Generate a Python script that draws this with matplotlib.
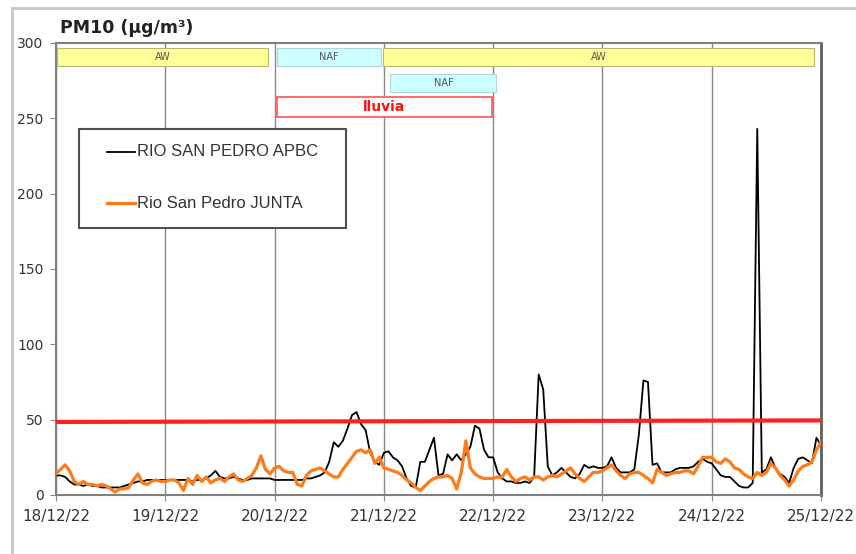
import numpy as np
import matplotlib.pyplot as plt
from matplotlib.patches import Rectangle
from matplotlib.lines import Line2D

# hourly PM10 values, 18/12/22 00h .. 25/12/22 00h
apbc = [
    13, 13, 12, 9, 7, 7, 6, 7, 6, 6, 5, 5, 5, 5, 5, 6, 7, 8, 9, 9, 10, 10, 10, 10,
    10, 10, 10, 10, 10, 10, 9, 10, 10, 11, 13, 16, 12, 11, 11, 12, 11, 10, 10, 11, 11, 11, 11, 11,
    10, 10, 10, 10, 10, 10, 10, 11, 11, 12, 13, 15, 22, 35, 32, 36, 44, 53, 55, 47, 43, 28, 22, 20,
    28, 29, 25, 23, 19, 11, 6, 5, 22, 22, 30, 38, 13, 14, 27, 23, 27, 23, 27, 32, 46, 44, 30, 25,
    25, 15, 11, 9, 9, 8, 8, 9, 8, 12, 80, 70, 19, 13, 15, 18, 15, 12, 11, 14, 20, 18, 19, 18,
    18, 19, 25, 18, 15, 15, 15, 17, 40, 76, 75, 20, 21, 15, 15, 15, 17, 18, 18, 18, 19, 22, 24, 22,
    21, 17, 13, 12, 12, 9, 6, 5, 5, 8, 243, 15, 17, 25, 18, 14, 12, 8, 18, 24, 25, 23, 21, 38,
    33,
]
junta = [
    14, 17, 20, 16, 9, 7, 9, 7, 7, 6, 7, 6, 4, 2, 4, 4, 5, 10, 14, 8, 7, 9, 10, 9,
    9, 10, 10, 8, 3, 11, 7, 13, 9, 12, 8, 10, 11, 9, 12, 14, 10, 9, 11, 13, 18, 26, 17, 14,
    18, 19, 16, 15, 15, 7, 6, 13, 16, 17, 18, 16, 14, 12, 12, 17, 21, 25, 29, 30, 28, 30, 21, 25,
    18, 17, 16, 15, 13, 10, 8, 5, 3, 6, 9, 11, 12, 12, 13, 11, 4, 15, 36, 18, 14, 12, 11, 11,
    11, 12, 12, 17, 12, 9, 11, 12, 10, 12, 12, 10, 12, 13, 12, 14, 16, 18, 14, 11, 9, 12, 15, 15,
    16, 18, 20, 16, 13, 11, 14, 15, 15, 13, 11, 8, 17, 15, 13, 14, 15, 15, 16, 16, 14, 19, 25, 25,
    25, 22, 21, 24, 22, 18, 17, 14, 12, 11, 15, 13, 15, 21, 18, 13, 10, 6, 10, 16, 19, 20, 22, 30,
    35,
]
limit = [48.5, 49.5]
day_labels = ['18/12/22', '19/12/22', '20/12/22', '21/12/22',
              '22/12/22', '23/12/22', '24/12/22', '25/12/22']
series_names = ['RIO SAN PEDRO APBC', 'Rio San Pedro JUNTA']

# episode bars on top: label, start day, end day, row
ev_labels = ['AW', 'NAF', 'AW', 'NAF', 'lluvia']
ev_start = [0.01, 2.02, 2.99, 3.06, 2.02]
ev_end = [1.94, 2.97, 6.94, 4.03, 3.99]
ev_row = [0, 0, 0, 1, 2]

t = np.arange(len(apbc)) / 24.0
colors = ['black', '#ff7a1a']
widths = [1.3, 2.3]

fig = plt.figure(figsize=(8.56, 5.54), dpi=100)
ax = fig.add_axes([56/856, 59/554, 765/856, 452/554])

ax.plot(t, apbc, color=colors[0], lw=widths[0], zorder=3)
ax.plot(t, junta, color=colors[1], lw=widths[1], zorder=4)
ax.plot([0, 7], limit, color='#ff2020', lw=3, zorder=5)

ax.set_xlim(0, 7)
ax.set_ylim(0, 300)
ax.set_xticks(range(8))
ax.set_xticklabels(day_labels)
ax.set_yticks(range(0, 301, 50))
ax.tick_params(axis='both', colors='#888888', labelcolor='#333333', labelsize=10, length=4)
ax.tick_params(axis='x', pad=6, labelsize=11)
ax.tick_params(axis='y', pad=5)
ax.grid(axis='x', color='#8a8a8a', lw=1)
for s in ax.spines.values():
    s.set_color('#808080')
    s.set_linewidth(1.5)
ax.spines['right'].set_color('#606060')
ax.spines['right'].set_linewidth(2)

rows = [(284.7, 296.6), (267.4, 279.4), (251, 264)]
for lab, x0, x1, r in zip(ev_labels, ev_start, ev_end, ev_row):
    y0, y1 = rows[r]
    if lab == 'AW':
        fc, ec, tc, fw, fs = '#ffff99', '#b8b870', '#555555', 'normal', 7
    elif lab == 'NAF':
        fc, ec, tc, fw, fs = '#ccffff', '#b0d8d8', '#555555', 'normal', 7
    else:
        fc, ec, tc, fw, fs = 'white', '#ff6060', '#ff1010', 'bold', 10
    ax.add_patch(Rectangle((x0, y0), x1 - x0, y1 - y0, facecolor=fc,
                           edgecolor=ec, lw=1.3 if lab == 'lluvia' else 0.8, zorder=6))
    ax.text((x0 + x1) / 2, (y0 + y1) / 2, lab, ha='center', va='center',
            color=tc, fontsize=fs, fontweight=fw, zorder=7)

# legend box drawn by hand (axes fraction)
def px2ax(px, py):
    return (px - 56) / 765, (495 - py) / 452

lx0, ly0 = px2ax(79, 228)
lx1, ly1 = px2ax(346, 129)
ax.add_patch(Rectangle((lx0, ly0), lx1 - lx0, ly1 - ly0, transform=ax.transAxes,
                       facecolor='white', edgecolor='#505050', lw=1.5, zorder=8))
for name, c, w, py in zip(series_names, colors, widths, [152, 203]):
    hx0, hy = px2ax(107, py)
    hx1, _ = px2ax(135, py)
    ax.plot([hx0, hx1], [hy, hy], color=c, lw=w, transform=ax.transAxes, zorder=9)
    tx, _ = px2ax(137, py)
    ax.text(tx, hy, name, transform=ax.transAxes, ha='left', va='center',
            family='Liberation Sans', fontsize=12, color='#333333', zorder=9)

fig.text(60/856, 1 - 28/554, 'PM10 (µg/m³)', fontsize=12.5, fontweight='bold',
         va='center', ha='left', color='#222222')

# light chart-area border (top and left)
fig.add_artist(Line2D([12/856, 1], [1 - 8/554, 1 - 8/554], color='#c8c8c8', lw=2))
fig.add_artist(Line2D([12/856, 12/856], [0, 1 - 8/554], color='#c8c8c8', lw=2))

fig.savefig('out.png', dpi=100)
